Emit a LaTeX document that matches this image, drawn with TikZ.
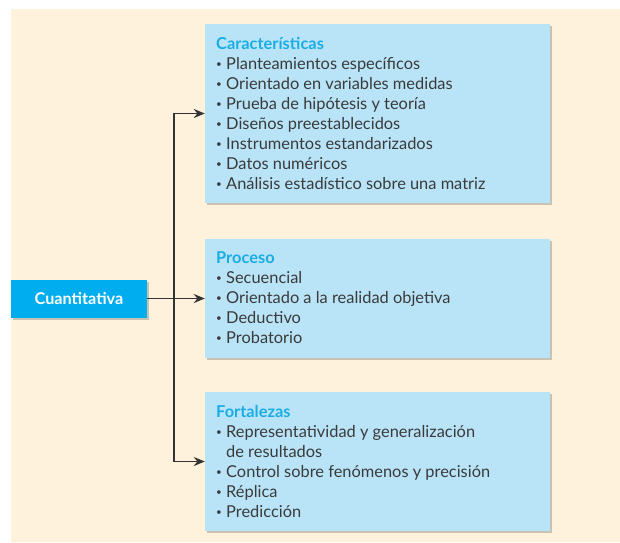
\documentclass[tikz,border=0pt]{standalone}
\usepackage{fontspec}
\setmainfont{Lato}
\usetikzlibrary{shadows,arrows.meta}
\definecolor{cream}{HTML}{FFF2DC}
\definecolor{boxblue}{HTML}{B9E4F8}
\definecolor{titleblue}{HTML}{1AADE4}
\definecolor{mainblue}{HTML}{00AEEF}
\definecolor{txt}{HTML}{3A3A3A}
\definecolor{linec}{HTML}{333333}
\newcommand{\bul}{\makebox[10pt][l]{\raisebox{0.3ex}{\scalebox{0.6}{\textbullet}}}}
\newcommand{\cont}{\hspace*{10pt}}
\tikzset{
  infobox/.style={draw=none, fill=boxblue, minimum width=345pt, inner sep=0pt,
    drop shadow={shadow xshift=2pt, shadow yshift=-2pt, opacity=0.35, fill=black!60}},
  mainbox/.style={draw=none, fill=mainblue, minimum width=136pt, minimum height=38pt, inner sep=0pt,
    text=white, font=\fontsize{16.2}{18}\selectfont\bfseries,
    drop shadow={shadow xshift=2pt, shadow yshift=-2pt, opacity=0.35, fill=black!60}},
  boxtext/.style={anchor=north west, align=left, inner sep=0pt, text=txt,
    font=\fontsize{16.4}{20}\selectfont},
  arr/.style={draw=linec, line width=1.8pt, -{Stealth[length=11pt,width=9pt]}},
}
\newcommand{\ttl}[1]{{\color{titleblue}\bfseries #1}}
\begin{document}
\begin{tikzpicture}[x=1pt,y=-1pt]
\useasboundingbox (0,0) rectangle (620,542);
\fill[cream] (11,9) rectangle (620,542);

\node[infobox, minimum height=179pt] (b1) at (377.5,113.5) {};
\node[infobox, minimum height=119pt] (b2) at (377.5,298.5) {};
\node[infobox, minimum height=139pt] (b3) at (377.5,461.5) {};
\node[mainbox] (c) at (79,298.5) {Cuantitativa};

\node[boxtext] (t1) at (216,37.5) {\ttl{Características}\\
\bul Planteamientos específicos\\
\bul Orientado en variables medidas\\
\bul Prueba de hipótesis y teoría\\
\bul Diseños preestablecidos\\
\bul Instrumentos estandarizados\\
\bul Datos numéricos\\
\bul Análisis estadístico sobre una matriz};

\node[boxtext] (t2) at (216,251.5) {\ttl{Proceso}\\
\bul Secuencial\\
\bul Orientado a la realidad objetiva\\
\bul Deductivo\\
\bul Probatorio};

\node[boxtext] (t3) at (216,405.5) {\ttl{Fortalezas}\\
\bul Representatividad y generalización\\
\cont de resultados\\
\bul Control sobre fenómenos y precisión\\
\bul Réplica\\
\bul Predicción};

\coordinate (j) at (174,298.5);
\draw[arr] (c.east) -- (b2.west);
\draw[arr] (j) |- (b1.west);
\draw[arr] (j) |- (b3.west);
\end{tikzpicture}
\end{document}
